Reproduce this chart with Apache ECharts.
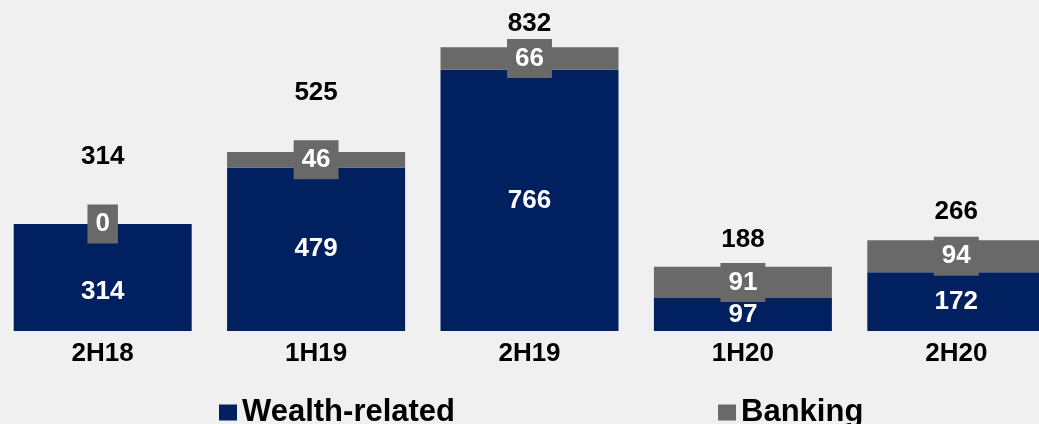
<!DOCTYPE html>
<html>
<head>
<meta charset="utf-8">
<script src="https://cdn.jsdelivr.net/npm/echarts@6/dist/echarts.min.js"></script>
<style>
html,body{margin:0;padding:0;background:#f0f0f0;}
#chart{width:1039px;height:424px;}
</style>
</head>
<body>
<div id="chart"></div>
<script>
const categories = ['2H18', '1H19', '2H19', '1H20', '2H20'];
const wealthRelated = [314, 479, 766, 97, 172];
const banking = [0, 46, 66, 91, 94];
const seriesNames = ['Wealth-related', 'Banking'];

const NAVY = '#002060';
const GRAY = '#696969';
const FONT = '"Liberation Sans", Arial, sans-serif';

const totals = categories.map((c, i) => wealthRelated[i] + banking[i]);
const totalDistances = [54, 46, 10, 14, 15];

const chart = echarts.init(document.getElementById('chart'));
chart.setOption({
  backgroundColor: '#f0f0f0',
  animation: false,
  grid: { left: -4, width: 1067, top: 24, bottom: 93, containLabel: false, outerBoundsMode: 'none' },
  xAxis: {
    type: 'category',
    data: categories,
    axisLine: { show: false },
    axisTick: { show: false },
    axisLabel: { fontFamily: FONT, fontWeight: 'bold', fontSize: 26, color: '#000', margin: 10 }
  },
  yAxis: { type: 'value', min: 0, max: 900, show: false, splitLine: { show: false } },
  legend: {
    data: seriesNames,
    left: 219,
    top: 397,
    padding: 0,
    itemWidth: 18,
    itemHeight: 16,
    itemGap: 263,
    icon: 'rect',
    textStyle: { fontFamily: FONT, fontWeight: 'bold', fontSize: 31, color: '#000', lineHeight: 30 }
  },
  series: [
    {
      name: seriesNames[0],
      type: 'bar',
      stack: 'total',
      barWidth: 178,
      itemStyle: { color: NAVY },
      label: {
        show: true, position: 'inside', color: '#fff',
        fontFamily: FONT, fontWeight: 'bold', fontSize: 26
      },
      data: wealthRelated.map((v, i) => i === 0 ? { value: v, label: { offset: [0, 14] } } : v)
    },
    {
      name: seriesNames[1],
      type: 'bar',
      stack: 'total',
      barWidth: 178,
      itemStyle: { color: GRAY },
      label: {
        show: true, position: 'inside', color: '#fff',
        fontFamily: FONT, fontWeight: 'bold', fontSize: 26, lineHeight: 26,
        backgroundColor: GRAY, padding: [7, 8, 6, 8]
      },
      data: banking
    },
    {
      name: 'Total',
      type: 'bar',
      stack: 'total',
      barWidth: 178,
      silent: true,
      itemStyle: { color: 'transparent' },
      label: {
        show: true, position: 'top', color: '#000',
        fontFamily: FONT, fontWeight: 'bold', fontSize: 26, lineHeight: 26,
        formatter: p => totals[p.dataIndex]
      },
      data: categories.map((c, i) => ({ value: 0, label: { distance: totalDistances[i] } }))
    }
  ]
});
</script>
</body>
</html>
